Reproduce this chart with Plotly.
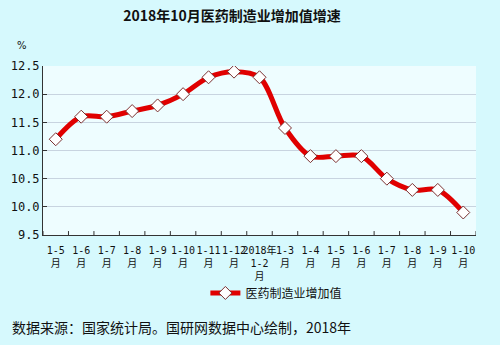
import plotly.graph_objects as go

categories = ["1-5<br>月", "1-6<br>月", "1-7<br>月", "1-8<br>月", "1-9<br>月", "1-10<br>月",
              "1-11<br>月", "1-12<br>月", "2018年<br>1-2<br>月", "1-3<br>月", "1-4<br>月",
              "1-5<br>月", "1-6<br>月", "1-7<br>月", "1-8<br>月", "1-9<br>月", "1-10<br>月"]
values = [11.2, 11.6, 11.6, 11.7, 11.8, 12.0, 12.3, 12.4, 12.3, 11.4, 10.9, 10.9, 10.9, 10.5, 10.3, 10.3, 9.9]
y_ticks = [9.5, 10.0, 10.5, 11.0, 11.5, 12.0, 12.5]
series_name = "医药制造业增加值"

cjk = "'Noto Sans CJK SC', sans-serif"

fig = go.Figure()
fig.add_trace(go.Scatter(
    x=list(range(len(categories))), y=values, name=series_name,
    mode="lines+markers",
    line=dict(color="#e00000", width=5, shape="spline", smoothing=0.9),
    marker=dict(symbol="diamond", size=10, color="white", line=dict(color="#7a3030", width=1)),
))

fig.update_layout(
    width=500, height=345,
    margin=dict(l=43, r=24, t=66, b=110),
    paper_bgcolor="#d6f9fd",
    plot_bgcolor="#eefdff",
    title=dict(text="<b>2018年10月医药制造业增加值增速</b>", x=0.464, xanchor="center",
               y=0.952, yanchor="middle",
               font=dict(family=cjk, size=14, color="#111")),
    showlegend=True,
    legend=dict(orientation="h", x=0.375, xanchor="left", y=-0.343, yanchor="middle",
                font=dict(family=cjk, size=12, color="#111"),
                bgcolor="rgba(0,0,0,0)"),
    xaxis=dict(
        range=[-0.5, len(categories) - 0.5],
        tickmode="array", tickvals=list(range(len(categories))), ticktext=categories,
        tickangle=0, ticklabelstandoff=6,
        showgrid=False, zeroline=False,
        showline=True, linecolor="#333", linewidth=1,
        ticks="", tickfont=dict(family="'DejaVu Sans Mono', " + cjk, size=10, color="#111"),
    ),
    yaxis=dict(
        range=[9.5, 12.5], tickvals=y_ticks, ticktext=[f"{v:.1f}" for v in y_ticks],
        showgrid=True, gridcolor="#c8d4e0", gridwidth=1, zeroline=False,
        showline=True, linecolor="#333", linewidth=1,
        ticks="inside", ticklen=4, tickcolor="#333",
        tickfont=dict(family="'DejaVu Sans Mono', monospace", size=12, color="#111"),
    ),
)

for i in range(len(categories) + 1):
    xb = i - 0.5
    fig.add_shape(type="line", xref="x", yref="y", x0=xb, x1=xb, y0=9.5, y1=9.5 + 0.07,
                  line=dict(color="#333", width=1))

fig.add_annotation(text="%", xref="paper", yref="paper", x=-0.0485, y=1.124,
                   xanchor="center", yanchor="middle", showarrow=False,
                   font=dict(family="'DejaVu Sans', sans-serif", size=10, color="#111"))
fig.add_annotation(text="数据来源：国家统计局。国研网数据中心绘制，2018年", xref="paper", yref="paper",
                   x=-0.076, xanchor="left", y=-0.544, yanchor="middle", showarrow=False,
                   font=dict(family=cjk, size=14, color="#111"))

fig.write_html("out.html")
